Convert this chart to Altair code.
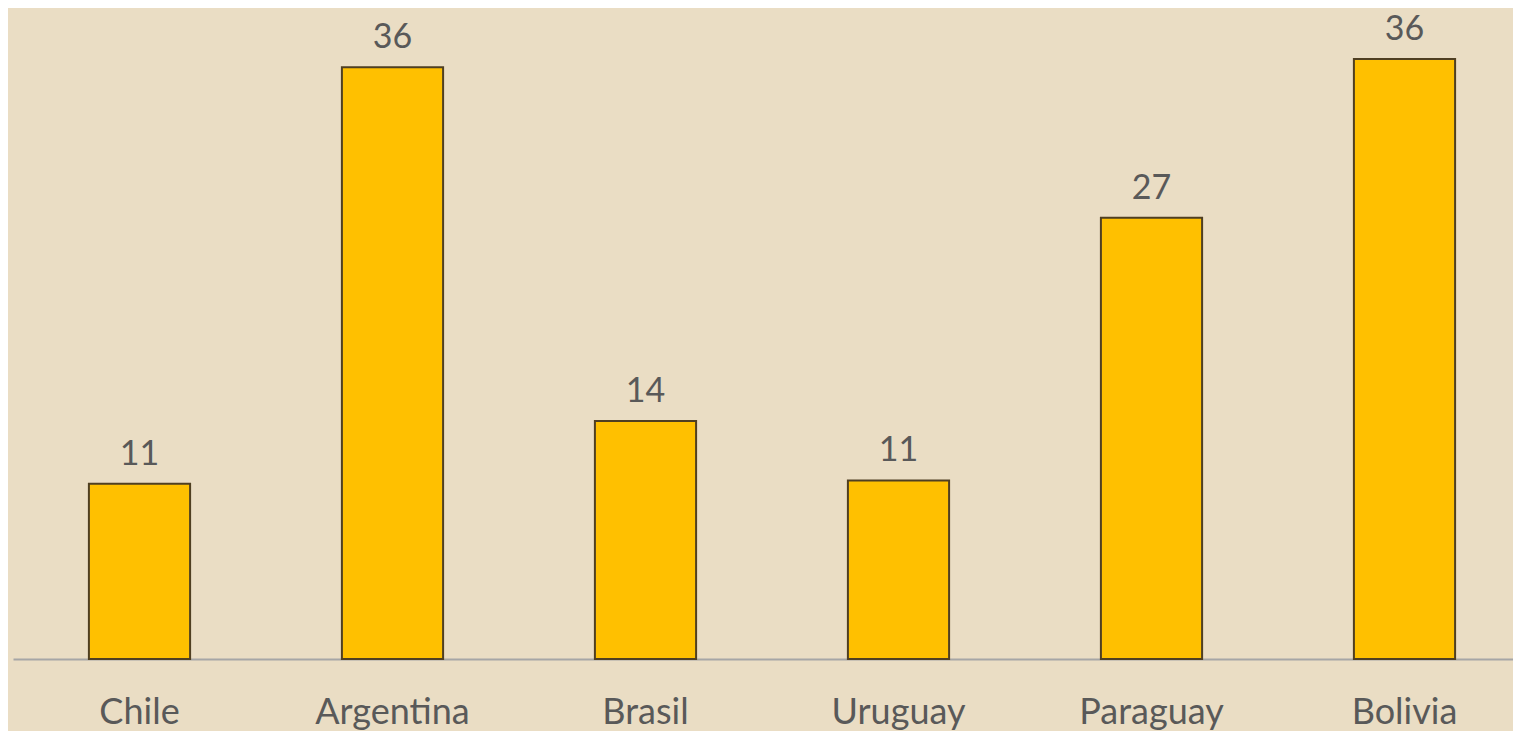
import altair as alt
import pandas as pd

countries = ["Chile", "Argentina", "Brasil", "Uruguay", "Paraguay", "Bolivia"]
values = [10.6, 35.8, 14.4, 10.8, 26.7, 36.3]

df = pd.DataFrame({"pais": countries, "valor": values})

FONT = "Lato"
BG = "#EADDC4"
TXT = "#595959"

x = alt.X("pais:N", sort=countries, title=None,
          scale=alt.Scale(range=[0, 1518], paddingInner=0.6, paddingOuter=0.3),
          axis=alt.Axis(labelAngle=0, labelFontSize=36, labelFont=FONT, labelColor=TXT,
                        ticks=False, tickSize=0, labelPadding=64, labelBaseline="alphabetic",
                        domainColor="#A6A6A6", domainWidth=2, grid=False))
y = alt.Y("valor:Q", title=None,
          scale=alt.Scale(domain=[0, 39.14], nice=False),
          axis=None)

bars = alt.Chart(df).mark_bar(color="#FFC000", stroke="#4F3F22", strokeWidth=2).encode(x=x, y=y)
labels = alt.Chart(df).mark_text(font=FONT, fontSize=34, color=TXT, baseline="alphabetic", dy=-19).encode(
    x=x, y=y, text=alt.Text("valor:Q", format=".0f"))

chart = alt.layer(bars, labels).properties(
    width=1500, height=647,
    autosize=alt.AutoSizeParams(type="none"),
    padding={"left": 5, "top": 4, "right": 0, "bottom": 72},
    background=BG,
).configure_view(stroke=None)

chart.save("out.html", embed_options={"renderer": "svg", "actions": False})
